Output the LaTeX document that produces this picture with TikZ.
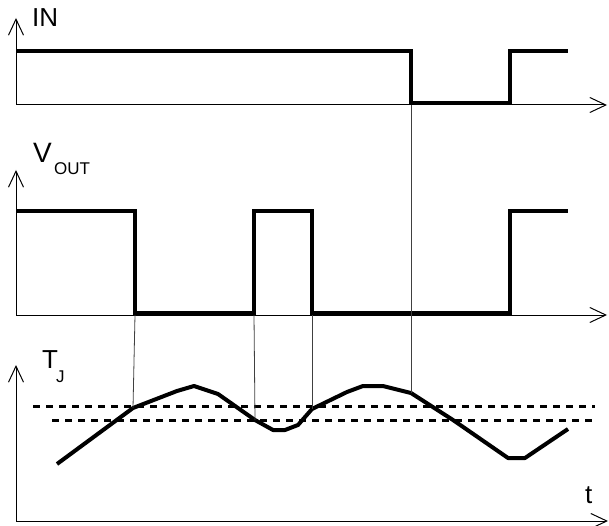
\documentclass[tikz,border=0pt]{standalone}
\usepackage{fontspec}
\setmainfont{Liberation Sans}
\usetikzlibrary{arrows.meta}
\begin{document}
\begin{tikzpicture}[x=1pt,y=-1pt,
  barb/.tip={Straight Barb[length=16pt,width=15pt,line width=1pt]},
  axis/.style={line width=1pt, barb-barb},
  signal/.style={line width=4pt, line join=miter, line cap=butt},
  threshold/.style={line width=3pt, dash pattern=on 7pt off 6pt},
  link/.style={line width=0.8pt, black!75},
  lbl/.style={anchor=base west, inner sep=0pt, font=\fontsize{26}{26}\selectfont},
  sublbl/.style={anchor=base west, inner sep=0pt, font=\fontsize{17}{17}\selectfont}]
\useasboundingbox (0,0) rectangle (609,526);

% ---------- IN ----------
\draw[axis] (16,18) -- (16,105) -- (607,105);
\node[lbl] (inlabel) at (32,27) {IN};
\draw[signal] (16,51) -- (411,51) -- (411,103) -- (510,103) -- (510,51) -- (568,51);
\coordinate (infall) at (411,105);

% ---------- VOUT ----------
\draw[axis] (16,170) -- (16,315) -- (607,315);
\node[lbl, font=\fontsize{28}{28}\selectfont] (voutV) at (33,163) {V};
\node[sublbl] (voutsub) at (54,175) {OUT};
\draw[signal] (16,211) -- (135,211) -- (135,313) -- (254,313) -- (254,211)
  -- (312,211) -- (312,313) -- (510,313) -- (510,211) -- (568,211);
\coordinate (vfall1) at (135,315);
\coordinate (vrise) at (254,315);
\coordinate (vfall2) at (312,315);

% ---------- TJ ----------
\draw[axis] (16,365) -- (16,521) -- (608,521);
\node[lbl] (tjT) at (42,368) {T};
\node[sublbl] (tjJ) at (56,382) {J};
\node[lbl] (tlabel) at (585,503) {t};

\draw[threshold] (33,406) -- (595,406);
\draw[threshold] (52,420) -- (597,420);

\coordinate (c1) at (133,408);
\coordinate (c2) at (255,420);
\coordinate (c3) at (312,409);
\coordinate (c4) at (411,393);
\draw[signal, line join=round] (57,464) -- (c1) -- (177,391) -- (194,386) -- (218,394)
  -- (c2) -- (273,430) -- (285,430) -- (298,425) -- (c3) -- (347,392)
  -- (363,386) -- (383,386) -- (c4) -- (453,420) -- (508,458)
  -- (525,458) -- (568,429);

% ---------- links ----------
\draw[link] (infall) -- (c4);
\draw[link] (vfall1) -- (c1);
\draw[link] (vrise) -- (c2);
\draw[link] (vfall2) -- (c3);
\end{tikzpicture}
\end{document}
